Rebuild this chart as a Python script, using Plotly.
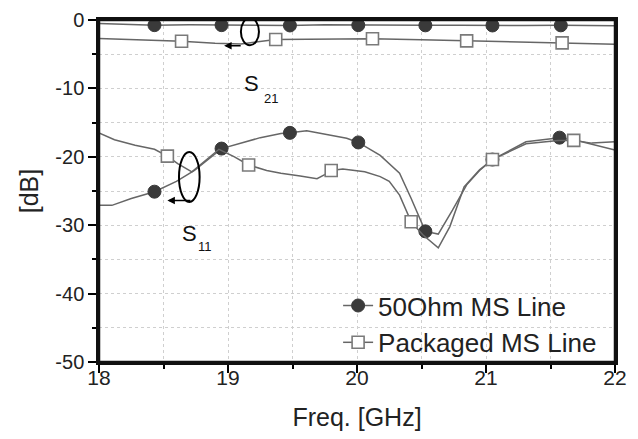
import plotly.graph_objects as go

# ---------------- data ----------------
# S21, 50 Ohm MS line
s21_50_x = [18.0, 18.2, 18.43, 18.7, 18.95, 19.2, 19.48, 19.75, 20.01, 20.25, 20.53, 20.8, 21.05, 21.3, 21.58, 21.8, 22.0]
s21_50_y = [-0.5, -0.6, -0.75, -0.7, -0.75, -0.8, -0.8, -0.7, -0.75, -0.8, -0.78, -0.75, -0.8, -0.8, -0.78, -0.85, -0.85]
s21_50_mx = [18.43, 18.95, 19.48, 20.01, 20.53, 21.05, 21.58]
s21_50_my = [-0.75, -0.75, -0.8, -0.75, -0.78, -0.8, -0.78]

# S21, packaged MS line
s21_pk_x = [18.0, 18.3, 18.64, 18.9, 19.1, 19.37, 19.7, 20.12, 20.5, 20.85, 21.2, 21.59, 22.0]
s21_pk_y = [-2.7, -2.9, -3.1, -3.4, -3.5, -2.85, -2.85, -2.75, -2.9, -3.05, -3.2, -3.35, -3.55]
s21_pk_mx = [18.64, 19.37, 20.12, 20.85, 21.59]
s21_pk_my = [-3.1, -2.85, -2.75, -3.05, -3.35]

# S11, 50 Ohm MS line
s11_50_x = [18.0, 18.1, 18.25, 18.43, 18.6, 18.74, 18.95, 19.07, 19.25, 19.41, 19.48, 19.61, 19.79,
            19.92, 20.01, 20.18, 20.33, 20.42, 20.53, 20.63, 20.74, 20.85, 20.95, 21.05, 21.31,
            21.57, 21.72, 22.0]
s11_50_y = [-27.1, -27.1, -26.1, -25.1, -23.6, -22.0, -18.8, -18.2, -17.2, -16.6, -16.5, -16.2, -16.8,
            -17.3, -17.9, -19.8, -22.4, -26.1, -30.9, -31.3, -27.8, -24.1, -22.0, -20.4, -17.8,
            -17.2, -17.7, -19.0]
s11_50_mx = [18.43, 18.95, 19.48, 20.01, 20.53, 21.05, 21.57]
s11_50_my = [-25.1, -18.8, -16.5, -17.9, -30.9, -20.4, -17.2]

# S11, packaged MS line
s11_pk_x = [18.0, 18.12, 18.28, 18.43, 18.53, 18.61, 18.72, 18.83, 18.93, 19.05, 19.16, 19.3, 19.41,
            19.56, 19.69, 19.75, 19.8, 19.89, 20.06, 20.18, 20.25, 20.33, 20.42, 20.51, 20.63,
            20.72, 20.83, 20.95, 21.05, 21.31, 21.56, 21.68, 21.82, 22.0]
s11_pk_y = [-16.5, -17.5, -18.3, -18.9, -19.9, -21.0, -22.2, -20.5, -18.9, -20.0, -21.2, -22.0, -22.4,
            -22.8, -23.2, -22.6, -22.0, -21.8, -22.2, -22.9, -23.6, -25.6, -29.5, -31.4, -33.3,
            -30.2, -24.4, -21.9, -20.4, -18.1, -17.6, -17.6, -18.0, -17.8]
s11_pk_mx = [18.53, 19.16, 19.8, 20.42, 21.05, 21.68]
s11_pk_my = [-19.9, -21.2, -22.0, -29.5, -20.4, -17.6]

series_names = ["50Ohm MS Line", "Packaged MS Line"]
x_tick_vals = [18, 19, 20, 21, 22]
x_tick_labels = ["18", "19", "20", "21", "22"]
y_tick_vals = [0, -10, -20, -30, -40, -50]
y_tick_labels = ["0", "-10", "-20", "-30", "-40", "-50"]

# ---------------- styles ----------------
LINE = "#666666"
FONT = "Liberation Sans, Arial, sans-serif"
circle_marker = dict(symbol="circle", size=13, color="#3a3a3a", line=dict(color="#3a3a3a", width=1))
square_marker = dict(symbol="square", size=12, color="white", line=dict(color="#7a7a7a", width=1.6))

fig = go.Figure()

def add_curve(x, y, mx, my, marker, group):
    fig.add_trace(go.Scatter(x=x, y=y, mode="lines", line=dict(color=LINE, width=1.5),
                             showlegend=False, legendgroup=group, hoverinfo="skip"))
    fig.add_trace(go.Scatter(x=mx, y=my, mode="markers", marker=marker,
                             showlegend=False, legendgroup=group))

add_curve(s21_50_x, s21_50_y, s21_50_mx, s21_50_my, circle_marker, "a")
add_curve(s21_pk_x, s21_pk_y, s21_pk_mx, s21_pk_my, square_marker, "b")
add_curve(s11_50_x, s11_50_y, s11_50_mx, s11_50_my, circle_marker, "a")
add_curve(s11_pk_x, s11_pk_y, s11_pk_mx, s11_pk_my, square_marker, "b")

# legend entries
fig.add_trace(go.Scatter(x=[None], y=[None], mode="lines+markers", name=series_names[0],
                         line=dict(color=LINE, width=1.5), marker=circle_marker, legendgroup="a"))
fig.add_trace(go.Scatter(x=[None], y=[None], mode="lines+markers", name=series_names[1],
                         line=dict(color=LINE, width=1.5), marker=square_marker, legendgroup="b"))

# plot frame
fig.add_shape(type="rect", xref="paper", yref="paper", x0=0, x1=1, y0=0, y1=1,
              line=dict(color="#111111", width=2.5), layer="above")

# annotation ellipses
fig.add_shape(type="circle", xref="x", yref="y", x0=19.10, x1=19.24, y0=-3.7, y1=0.3,
              line=dict(color="black", width=2))
fig.add_shape(type="circle", xref="x", yref="y", x0=18.62, x1=18.78, y0=-26.6, y1=-19.3,
              line=dict(color="black", width=2))

# arrows
fig.add_annotation(x=18.97, y=-3.75, ax=19.11, ay=-3.75, xref="x", yref="y", axref="x", ayref="y",
                   text="", showarrow=True, arrowhead=2, arrowsize=1, arrowwidth=1.5, arrowcolor="black")
fig.add_annotation(x=18.53, y=-26.4, ax=18.72, ay=-26.4, xref="x", yref="y", axref="x", ayref="y",
                   text="", showarrow=True, arrowhead=2, arrowsize=1, arrowwidth=1.5, arrowcolor="black")

# S labels
for txt, x, y, size in [("S", 19.185, -9.24, 22), ("21", 19.33, -11.43, 13),
                        ("S", 18.703, -31.25, 22), ("11", 18.824, -33.14, 13)]:
    fig.add_annotation(x=x, y=y, xref="x", yref="y", text=txt, showarrow=False,
                       font=dict(family=FONT, size=size, color="#111"))

# the page body keeps its default 8px margin, so the figure is drawn 8px in from the window corner
fig.update_layout(
    template="none",
    width=630, height=431,
    margin=dict(l=91, r=23, t=12, b=77, autoexpand=False),
    paper_bgcolor="white", plot_bgcolor="white",
    font=dict(family=FONT, color="#222"),
    legend=dict(x=0.975, y=-0.012, xanchor="right", yanchor="bottom", bgcolor="rgba(0,0,0,0)",
                font=dict(family=FONT, size=26, color="#222"), itemwidth=30,
                tracegroupgap=0, borderwidth=0),
    showlegend=True,
)

grid = dict(showgrid=True, gridcolor="#cfcfcf", griddash="dot", gridwidth=1)
fig.update_xaxes(range=[18, 22], tickvals=x_tick_vals, ticktext=x_tick_labels, automargin=False,
                 ticks="outside", ticklen=8, tickwidth=1.5, tickcolor="black",
                 showline=True, linecolor="#111111", linewidth=2.5, mirror=True,
                 tickfont=dict(family=FONT, size=21, color="#222"), ticklabelstandoff=-13,
                 title=dict(text="Freq. [GHz]", font=dict(family=FONT, size=25, color="#222"), standoff=21),
                 minor=dict(dtick=0.5, ticks="outside", ticklen=4, tickcolor="black",
                            showgrid=True, gridcolor="#cfcfcf", griddash="dot"),
                 zeroline=False, layer="above traces", **grid)
fig.update_yaxes(range=[-50, 0], tickvals=y_tick_vals, ticktext=y_tick_labels, automargin=False,
                 ticks="outside", ticklen=8, tickwidth=1.5, tickcolor="black",
                 showline=True, linecolor="#111111", linewidth=2.5, mirror=True,
                 tickfont=dict(family=FONT, size=20, color="#222"),
                 title=dict(text="[dB]", font=dict(family=FONT, size=25, color="#222"), standoff=10),
                 minor=dict(dtick=5, ticks="outside", ticklen=4, tickcolor="black",
                            showgrid=True, gridcolor="#cfcfcf", griddash="dot"),
                 zeroline=False, layer="above traces", **grid)

fig.write_html("out.html")
